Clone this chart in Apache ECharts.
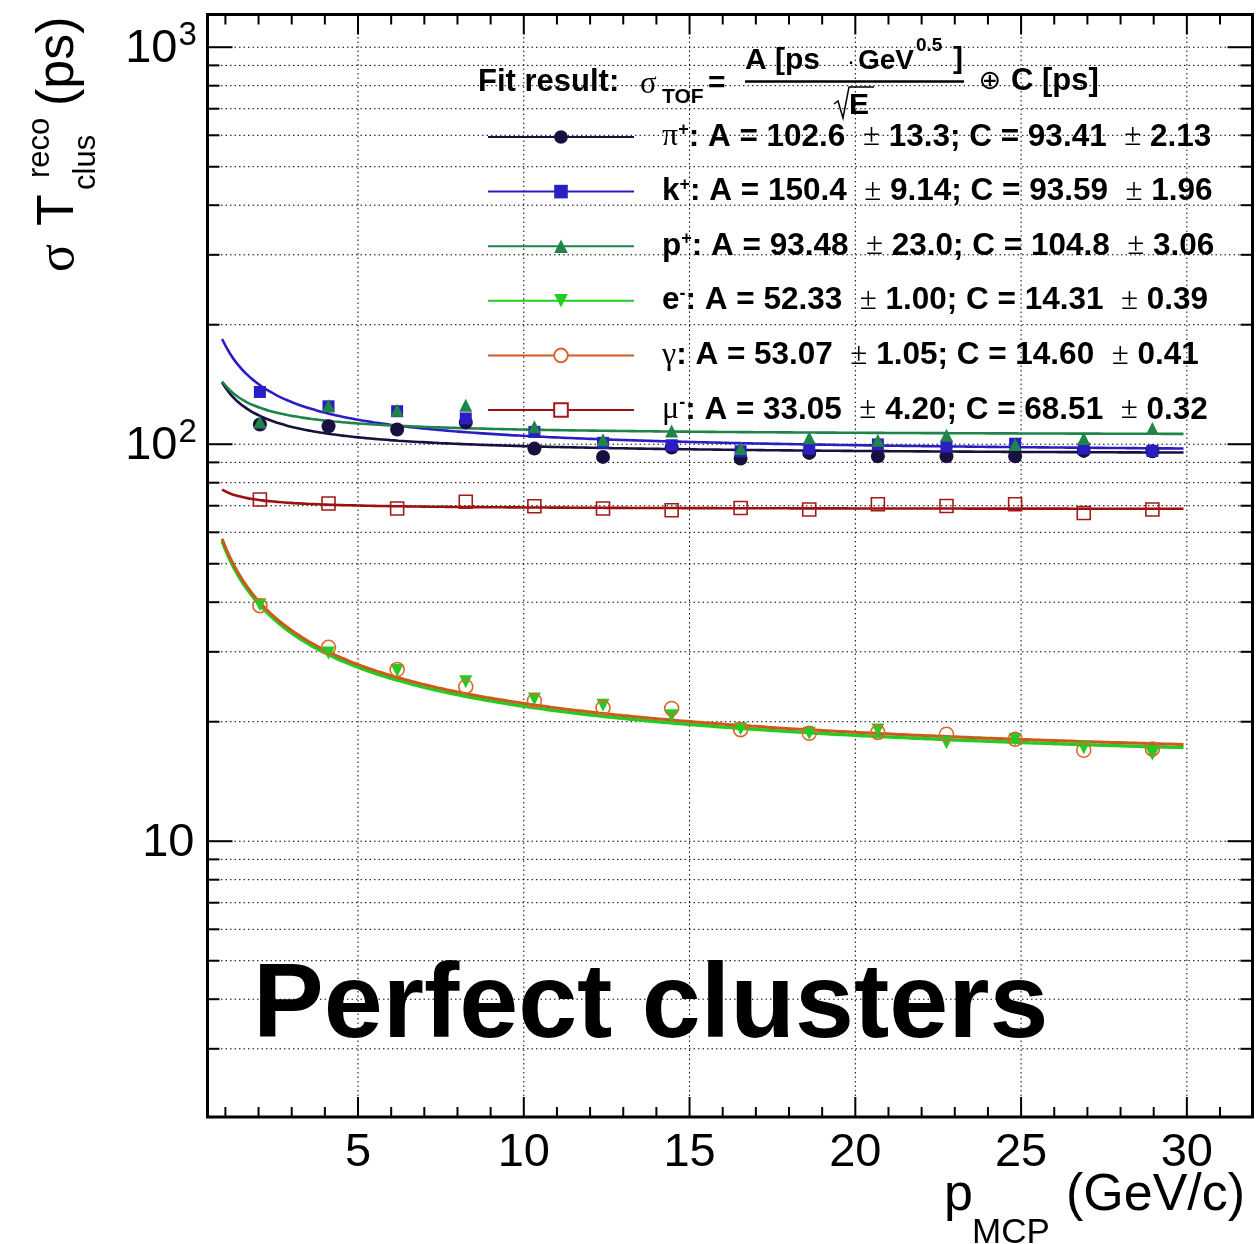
<!DOCTYPE html>
<html>
<head>
<meta charset="utf-8">
<script src="https://cdn.jsdelivr.net/npm/echarts@6.0.0/dist/echarts.min.js"></script>
<style>
html,body{margin:0;padding:0;background:#ffffff;}
#chart{width:1256px;height:1244px;}
</style>
</head>
<body>
<div id="chart"></div>
<script>
// ---------------- data ----------------
const pMCP       = [2.04, 4.11, 6.18, 8.25, 10.32, 12.39, 14.46, 16.54, 18.61, 20.68, 22.75, 24.82, 26.89, 28.96];
const sigmaPi    = [112.1, 111.0, 108.9, 113.5, 97.5, 92.9, 98.1, 92.0, 95.1, 93.2, 93.2, 93.2, 96.2, 96.0];
const sigmaK     = [135.4, 124.6, 121.1, 116.1, 107.4, 100.8, 99.4, 96.0, 97.5, 99.9, 98.7, 100.3, 97.5, 96.2];
const sigmaP     = [113.8, 125.0, 121.8, 125.4, 110.6, 102.7, 108.0, 97.5, 103.9, 102.3, 105.4, 99.9, 103.4, 109.5];
const sigmaE     = [39.4, 29.8, 26.9, 25.2, 22.8, 22.0, 20.7, 19.2, 18.7, 19.05, 17.7, 18.05, 17.2, 16.56];
const sigmaGamma = [39.2, 30.8, 27.07, 24.5, 22.6, 21.7, 21.6, 19.1, 18.7, 18.8, 18.6, 18.07, 16.95, 17.08];
const sigmaMu    = [72.6, 70.9, 68.9, 71.6, 69.8, 68.9, 68.2, 69.1, 68.5, 70.6, 69.9, 70.6, 67.1, 68.5];

// fit results shown in the legend: sigma = A/sqrt(E) (+) C
const fitA    = [102.6, 150.4, 93.48, 52.33, 53.07, 33.05];
const fitAErr = [13.3, 9.14, 23.0, 1.00, 1.05, 4.20];
const fitC    = [93.41, 93.59, 104.8, 14.31, 14.60, 68.51];
const fitCErr = [2.13, 1.96, 3.06, 0.39, 0.41, 0.32];
const fitRange = [0.9, 29.9];

const xRange = [0.46, 31.98];
const yRange = [2.02, 1209];
const xTicksMajor = [5, 10, 15, 20, 25, 30];
const xTicksMinor = [1, 2, 3, 4, 6, 7, 8, 9, 11, 12, 13, 14, 16, 17, 18, 19, 21, 22, 23, 24, 26, 27, 28, 29, 31];
const xTickLabels = ['5', '10', '15', '20', '25', '30'];
const yTicksMajor = [10, 100, 1000];
const yTicksMinor = [3, 4, 5, 6, 7, 8, 9, 20, 30, 40, 50, 60, 70, 80, 90, 200, 300, 400, 500, 600, 700, 800, 900];
const yTickLabelBase = ['10', '10', '10'];
const yTickLabelExp  = ['', '2', '3'];

const seriesKeys = ['pi', 'k', 'p', 'e', 'gamma', 'mu'];
const seriesValues = [sigmaPi, sigmaK, sigmaP, sigmaE, sigmaGamma, sigmaMu];

// ---------------- styles ----------------
const FONT = 'Liberation Sans';
const styles = {
  pi:    { color: '#1a1040', sym: 'circle',   legendSym: 'circle',      size: 14, rot: 0,   open: false },
  k:     { color: '#2b1dc4', sym: 'rect',     legendSym: 'rect',        size: 12, rot: 0,   open: false },
  p:     { color: '#1f8447', sym: 'triangle', legendSym: 'triangle',    size: 13, rot: 0,   open: false },
  e:     { color: '#22cc22', sym: 'triangle', legendSym: 'triangle',    size: 13, rot: 180, open: false },
  gamma: { color: '#d9682d', sym: 'circle',   legendSym: 'emptyCircle', size: 14, rot: 0,   open: true },
  mu:    { color: '#a31a1a', sym: 'rect',     legendSym: 'emptyRect',   size: 13, rot: 0,   open: true }
};
const fitColors = { pi: '#1a1040', k: '#2b1dc4', p: '#1f8447', e: '#22cc22', gamma: '#cc5a1c', mu: '#9c1010' };
const fitWidths = { pi: 2.6, k: 2.6, p: 2.6, e: 3.4, gamma: 3.0, mu: 2.6 };
const nameTokens = {
  pi: '{g|π}{sup|+}', k: '{b|k}{sup|+}', p: '{b|p}{sup|+}',
  e: '{b|e}{sup|-}', gamma: '{g|γ}', mu: '{g|μ}{sup|-}'
};

function fitCurve(A, C) {
  const pts = [];
  const n = 120;
  for (let i = 0; i <= n; i++) {
    const E = fitRange[0] + (fitRange[1] - fitRange[0]) * i / n;
    pts.push([E, Math.sqrt(A * A / E + C * C)]);
  }
  return pts;
}

const series = [];

// grid lines (under data)
series.push({
  type: 'custom', name: '_grid', silent: true, z: 1,
  data: [[xRange[0], yRange[0]]],
  renderItem: function (params, api) {
    const cs = params.coordSys;
    const x0 = cs.x, y0 = cs.y, x1 = cs.x + cs.width, y1 = cs.y + cs.height;
    const st = { stroke: '#000', lineWidth: 1, lineDash: [1.5, 3] };
    const ch = [];
    xTicksMajor.forEach(v => {
      const x = api.coord([v, yRange[0]])[0];
      ch.push({ type: 'line', shape: { x1: x, y1: y0, x2: x, y2: y1 }, style: st });
    });
    yTicksMajor.concat(yTicksMinor).forEach(v => {
      const y = api.coord([xRange[0], v])[1];
      ch.push({ type: 'line', shape: { x1: x0, y1: y, x2: x1, y2: y }, style: st });
    });
    return { type: 'group', children: ch };
  }
});

// fits + points
seriesKeys.forEach((key, i) => {
  const s = styles[key];
  series.push({
    type: 'line', name: key, z: 3,
    data: fitCurve(fitA[i], fitC[i]),
    showSymbol: false, symbol: s.legendSym, symbolSize: s.size, symbolRotate: s.rot,
    smooth: true,
    lineStyle: { color: fitColors[key], width: fitWidths[key] },
    itemStyle: { color: s.color },
    color: s.color,
    silent: true, animation: false
  });
});
seriesKeys.forEach((key, i) => {
  const s = styles[key];
  series.push({
    type: 'scatter', name: key, z: 4,
    data: pMCP.map((x, j) => [x, seriesValues[i][j]]),
    symbol: s.sym, symbolSize: s.size, symbolRotate: s.rot,
    itemStyle: s.open
      ? { color: 'rgba(0,0,0,0)', borderColor: s.color, borderWidth: 1.6, opacity: 1 }
      : { color: s.color, opacity: 1 },
    silent: true, animation: false
  });
});

// frame, ticks, tick labels (over data)
series.push({
  type: 'custom', name: '_frame', silent: true, z: 6,
  data: [[xRange[0], yRange[0]]],
  renderItem: function (params, api) {
    const cs = params.coordSys;
    const x0 = cs.x, y0 = cs.y, x1 = cs.x + cs.width, y1 = cs.y + cs.height;
    const ch = [];
    const tk = { stroke: '#000', lineWidth: 2 };
    xTicksMajor.forEach(v => {
      const x = api.coord([v, yRange[0]])[0];
      ch.push({ type: 'line', shape: { x1: x, y1: y1, x2: x, y2: y1 - 20 }, style: tk });
      ch.push({ type: 'line', shape: { x1: x, y1: y0, x2: x, y2: y0 + 20 }, style: tk });
    });
    xTicksMinor.forEach(v => {
      const x = api.coord([v, yRange[0]])[0];
      ch.push({ type: 'line', shape: { x1: x, y1: y1, x2: x, y2: y1 - 10 }, style: tk });
      ch.push({ type: 'line', shape: { x1: x, y1: y0, x2: x, y2: y0 + 10 }, style: tk });
    });
    yTicksMajor.forEach(v => {
      const y = api.coord([xRange[0], v])[1];
      ch.push({ type: 'line', shape: { x1: x0, y1: y, x2: x0 + 25, y2: y }, style: tk });
      ch.push({ type: 'line', shape: { x1: x1, y1: y, x2: x1 - 25, y2: y }, style: tk });
    });
    yTicksMinor.forEach(v => {
      const y = api.coord([xRange[0], v])[1];
      ch.push({ type: 'line', shape: { x1: x0, y1: y, x2: x0 + 12, y2: y }, style: tk });
      ch.push({ type: 'line', shape: { x1: x1, y1: y, x2: x1 - 12, y2: y }, style: tk });
    });
    ch.push({ type: 'rect', shape: { x: x0, y: y0, width: x1 - x0, height: y1 - y0 },
      style: { fill: 'none', stroke: '#000', lineWidth: 3 } });
    xTicksMajor.forEach((v, i) => {
      const x = api.coord([v, yRange[0]])[0];
      ch.push({ type: 'text', x: x, y: y1 + 36,
        style: { text: xTickLabels[i], fill: '#000', fontSize: 47, fontFamily: FONT, align: 'center', verticalAlign: 'middle' } });
    });
    yTicksMajor.forEach((v, i) => {
      const y = api.coord([xRange[0], v])[1];
      const hasExp = yTickLabelExp[i] !== '';
      ch.push({ type: 'text', x: hasExp ? x0 - 30 : x0 - 13, y: y + 2,
        style: { text: yTickLabelBase[i], fill: '#000', fontSize: 47, fontFamily: FONT, align: 'right', verticalAlign: 'middle' } });
      if (hasExp) {
        ch.push({ type: 'text', x: x0 - 29, y: y - 11,
          style: { text: yTickLabelExp[i], fill: '#000', fontSize: 33, fontFamily: FONT, align: 'left', verticalAlign: 'middle' } });
      }
    });
    return { type: 'group', children: ch };
  }
});

function legendLabel(key) {
  const i = seriesKeys.indexOf(key);
  return '{sp| }' + nameTokens[key] + '{b|: A = ' + fitA[i].toPrecision(4) + '  }{pm|±}{b| ' +
    fitAErr[i].toPrecision(3) + '; C = ' + fitC[i].toPrecision(4) + '  }{pm|±}{b| ' + fitCErr[i].toFixed(2) + '}';
}

const bold = { fontFamily: FONT, fontWeight: 'bold', color: '#000' };
const hdr = (text, x, y, size, extra) => ({ type: 'text', x: x, y: y,
  style: Object.assign({ text: text, fontSize: size, fontFamily: FONT, fontWeight: 'bold', fill: '#000', verticalAlign: 'middle', align: 'left' }, extra || {}) });

const option = {
  animation: false,
  backgroundColor: '#ffffff',
  grid: { left: 207.5, right: 3.5, top: 14.5, bottom: 127, containLabel: false },
  xAxis: { type: 'value', min: xRange[0], max: xRange[1],
    axisLine: { show: false }, axisTick: { show: false }, axisLabel: { show: false }, splitLine: { show: false } },
  yAxis: { type: 'log', logBase: 10, min: yRange[0], max: yRange[1],
    axisLine: { show: false }, axisTick: { show: false }, axisLabel: { show: false }, splitLine: { show: false } },
  legend: {
    data: seriesKeys,
    orient: 'vertical', left: 487, top: 121, padding: 0,
    itemWidth: 146, itemHeight: 17, itemGap: 22.6,
    selectedMode: false,
    lineStyle: { width: 2 },
    formatter: legendLabel,
    textStyle: {
      color: '#000', fontSize: 31.5, lineHeight: 32,
      rich: {
        sp: { width: 23, fontSize: 28, lineHeight: 32 },
        b: Object.assign({ fontSize: 31.5, lineHeight: 32 }, bold),
        g: { fontFamily: 'Liberation Serif', fontSize: 32, lineHeight: 32, color: '#000' },
        sup: Object.assign({ fontSize: 18, lineHeight: 18, verticalAlign: 'top' }, bold),
        pm: { fontFamily: 'Liberation Serif', fontSize: 31, lineHeight: 32, color: '#000' }
      }
    }
  },
  graphic: [
    // legend header
    hdr('Fit result:', 478, 82, 31),
    { type: 'text', x: 640, y: 85, style: { text: 'σ', fontSize: 31, fontFamily: 'Liberation Serif', fill: '#000', verticalAlign: 'middle', align: 'left' } },
    hdr('TOF', 662, 97, 21),
    hdr('=', 708, 84, 30),
    hdr('A [ps', 745, 61, 30),
    { type: 'text', x: 851, y: 62, style: { text: '·', fontSize: 24, fontFamily: FONT, fill: '#000', verticalAlign: 'middle', align: 'center' } },
    hdr('GeV', 858, 61, 28),
    hdr('0.5', 916, 46, 19),
    hdr(']', 953, 60, 30),
    { type: 'line', shape: { x1: 745, y1: 81.5, x2: 964, y2: 81.5 }, style: { stroke: '#000', lineWidth: 2.5 } },
    { type: 'polyline', shape: { points: [[834, 104], [838, 101], [843, 118], [849, 87], [874, 87]] }, style: { stroke: '#000', lineWidth: 1.5, fill: 'none' } },
    hdr('E', 849, 106, 30),
    { type: 'text', x: 990, y: 82, style: { text: '⊕', fontSize: 27, fontFamily: 'DejaVu Sans', fill: '#000', verticalAlign: 'middle', align: 'center' } },
    hdr('C [ps]', 1011, 81, 31),

    // y axis title (rotated)
    { type: 'group', x: 76, y: 272, rotation: Math.PI / 2, children: [
      { type: 'text', x: 0, y: -17, style: { text: 'σ', fontSize: 52, fontFamily: 'Liberation Serif', fill: '#000', verticalAlign: 'middle', align: 'left' } },
      { type: 'text', x: 46, y: -17, style: { text: 'T', fontSize: 52, fontFamily: FONT, fill: '#000', verticalAlign: 'middle', align: 'left' } },
      { type: 'text', x: 94, y: -36, style: { text: 'reco', fontSize: 31, fontFamily: FONT, fill: '#000', verticalAlign: 'middle', align: 'left' } },
      { type: 'text', x: 82, y: 10, style: { text: 'clus', fontSize: 31, fontFamily: FONT, fill: '#000', verticalAlign: 'middle', align: 'left' } },
      { type: 'text', x: 166, y: -17, style: { text: '(ps)', fontSize: 52, fontFamily: FONT, fill: '#000', verticalAlign: 'middle', align: 'left' } }
    ] },

    // x axis title
    { type: 'text', x: 944, y: 1196, style: { text: 'p', fontSize: 52, fontFamily: FONT, fill: '#000', verticalAlign: 'middle', align: 'left' } },
    { type: 'text', x: 972, y: 1233, style: { text: 'MCP', fontSize: 35, fontFamily: FONT, fill: '#000', verticalAlign: 'middle', align: 'left' } },
    { type: 'text', x: 1066, y: 1196, style: { text: '(GeV/c)', fontSize: 52, fontFamily: FONT, fill: '#000', verticalAlign: 'middle', align: 'left' } },

    // annotation
    { type: 'text', x: 253, y: 1008, style: { text: 'Perfect clusters', fontSize: 106, fontFamily: FONT, fontWeight: 'bold', fill: '#000', verticalAlign: 'middle', align: 'left' } }
  ],
  series: series
};

const chart = echarts.init(document.getElementById('chart'), null, { renderer: 'canvas' });
chart.setOption(option);
</script>
</body>
</html>
